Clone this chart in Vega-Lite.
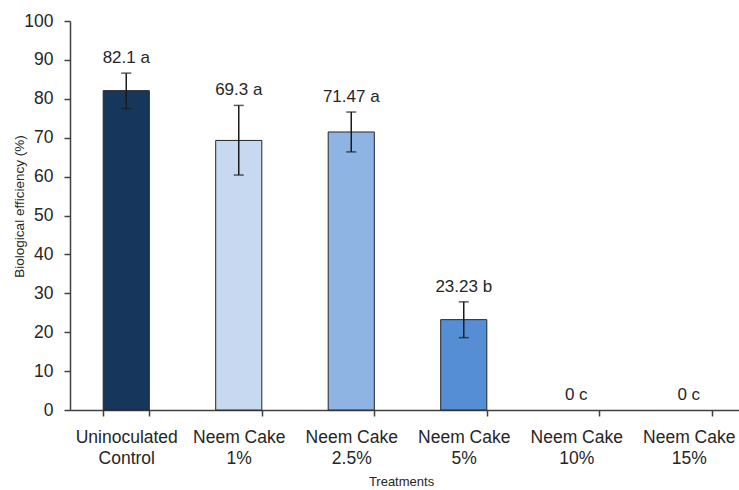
{
  "$schema": "https://vega.github.io/schema/vega-lite/v6.json",
  "autosize": {"type": "none"},
  "width": 669,
  "height": 389,
  "padding": {"left": 70, "top": 21, "right": 0, "bottom": 80},
  "background": "white",
  "config": {
    "view": {"stroke": null},
    "font": "Liberation Sans",
    "axis": {"labelColor": "#262626", "titleColor": "#262626", "domainColor": "#404040", "tickColor": "#404040", "domainWidth": 1.5, "tickWidth": 1.5, "grid": false}
  },
  "data": {
    "values": [
      {"treatment": "Uninoculated Control", "be": 82.1, "lo": 77.5, "hi": 86.6, "label": "82.1 a"},
      {"treatment": "Neem Cake 1%", "be": 69.3, "lo": 60.4, "hi": 78.3, "label": "69.3 a"},
      {"treatment": "Neem Cake 2.5%", "be": 71.47, "lo": 66.35, "hi": 76.6, "label": "71.47 a"},
      {"treatment": "Neem Cake 5%", "be": 23.23, "lo": 18.6, "hi": 27.8, "label": "23.23 b"},
      {"treatment": "Neem Cake 10%", "be": 0, "lo": 0, "hi": 0, "label": "0 c"},
      {"treatment": "Neem Cake 15%", "be": 0, "lo": 0, "hi": 0, "label": "0 c"}
    ]
  },
  "encoding": {
    "x": {
      "field": "treatment",
      "type": "nominal",
      "sort": null,
      "scale": {"range": [0, 675], "paddingInner": 0.59, "paddingOuter": 0.295},
      "axis": {
        "title": "Treatments",
        "titleFontSize": 13,
        "titleFontWeight": "normal",
        "titleX": 331,
        "titleY": 71,
        "titleBaseline": "middle",
        "titleAnchor": null,
        "labelAngle": 0,
        "labelFontSize": 17.5,
        "labelLineHeight": 21.5,
        "labelPadding": 12,
        "tickSize": 6,
        "tickBand": "extent",
        "labelExpr": "!isValid(datum.value) ? '' : datum.value == 'Uninoculated Control' ? ['Uninoculated', 'Control'] : ['Neem Cake', replace(datum.value, 'Neem Cake ', '')]"
      }
    }
  },
  "layer": [
    {
      "mark": {"type": "bar", "stroke": "#262626", "strokeWidth": 1},
      "transform": [{"filter": "datum.be > 0"}],
      "encoding": {
        "y": {
          "field": "be",
          "type": "quantitative",
          "scale": {"domain": [0, 100], "nice": false},
          "axis": {"title": "Biological efficiency (%)", "titleFontSize": 13.5, "titleFontWeight": "normal", "titleAngle": -90, "titleBaseline": "middle", "titleAlign": "center", "titleX": -51, "titleY": 185, "values": [0, 10, 20, 30, 40, 50, 60, 70, 80, 90, 100], "labelFontSize": 17.5, "labelPadding": 11, "tickSize": 6}
        },
        "color": {
          "field": "treatment",
          "type": "nominal",
          "sort": null,
          "scale": {
            "domain": ["Uninoculated Control", "Neem Cake 1%", "Neem Cake 2.5%", "Neem Cake 5%", "Neem Cake 10%", "Neem Cake 15%"],
            "range": ["#16365C", "#C6D9F1", "#8EB4E3", "#558ED5", "#4F81BD", "#4F81BD"]
          },
          "legend": null
        }
      }
    },
    {
      "mark": {"type": "rule", "color": "#1a1a1a", "strokeWidth": 1.5},
      "transform": [{"filter": "datum.hi > 0"}],
      "encoding": {
        "y": {"field": "lo", "type": "quantitative", "axis": {"title": "Biological efficiency (%)", "titleFontSize": 13.5, "titleFontWeight": "normal", "titleAngle": -90, "titleBaseline": "middle", "titleAlign": "center", "titleX": -51, "titleY": 185, "values": [0, 10, 20, 30, 40, 50, 60, 70, 80, 90, 100], "labelFontSize": 17.5, "labelPadding": 11, "tickSize": 6}},
        "y2": {"field": "hi"}
      }
    },
    {
      "mark": {"type": "tick", "orient": "horizontal", "color": "#1a1a1a", "size": 10, "thickness": 1.5},
      "transform": [{"filter": "datum.hi > 0"}],
      "encoding": {"y": {"field": "lo", "type": "quantitative", "axis": {"title": "Biological efficiency (%)", "titleFontSize": 13.5, "titleFontWeight": "normal", "titleAngle": -90, "titleBaseline": "middle", "titleAlign": "center", "titleX": -51, "titleY": 185, "values": [0, 10, 20, 30, 40, 50, 60, 70, 80, 90, 100], "labelFontSize": 17.5, "labelPadding": 11, "tickSize": 6}}}
    },
    {
      "mark": {"type": "tick", "orient": "horizontal", "color": "#1a1a1a", "size": 10, "thickness": 1.5},
      "transform": [{"filter": "datum.hi > 0"}],
      "encoding": {"y": {"field": "hi", "type": "quantitative", "axis": {"title": "Biological efficiency (%)", "titleFontSize": 13.5, "titleFontWeight": "normal", "titleAngle": -90, "titleBaseline": "middle", "titleAlign": "center", "titleX": -51, "titleY": 185, "values": [0, 10, 20, 30, 40, 50, 60, 70, 80, 90, 100], "labelFontSize": 17.5, "labelPadding": 11, "tickSize": 6}}}
    },
    {
      "mark": {"type": "text", "fontSize": 17, "color": "#262626", "baseline": "middle", "dy": -15},
      "encoding": {
        "y": {"field": "hi", "type": "quantitative", "axis": {"title": "Biological efficiency (%)", "titleFontSize": 13.5, "titleFontWeight": "normal", "titleAngle": -90, "titleBaseline": "middle", "titleAlign": "center", "titleX": -51, "titleY": 185, "values": [0, 10, 20, 30, 40, 50, 60, 70, 80, 90, 100], "labelFontSize": 17.5, "labelPadding": 11, "tickSize": 6}},
        "text": {"field": "label"}
      }
    }
  ]
}
